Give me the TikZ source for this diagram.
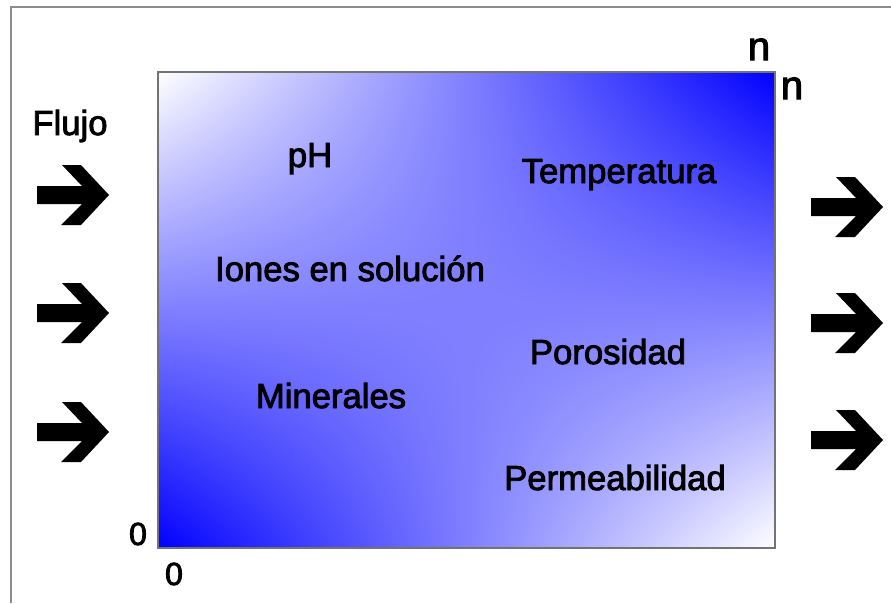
\documentclass[tikz,border=0pt]{standalone}
\usepackage{fontspec}
\setmainfont{Liberation Sans}
\newfontface\gruesa{Liberation Sans}[FakeBold=2.5]
\usetikzlibrary{positioning}
\tikzstyle{etiqueta}=[font=\gruesa\fontsize{26}{30}\selectfont,anchor=base,inner sep=0pt]

\pgfdeclarefunctionalshading{medio}{\pgfpoint{0bp}{0bp}}{\pgfpoint{100bp}{100bp}}{}{
  25 sub 50 div exch 25 sub 50 div exch
  2 copy mul 2 mul 3 1 roll add exch sub
  dup 0 lt {pop 0} if dup 1 gt {pop 1} if
  dup 1
}

\begin{document}
\begin{tikzpicture}[x=0.75pt,y=-0.75pt]
\tikzstyle{cero}=[font=\gruesa\fontsize{24}{28}\selectfont,anchor=base,inner sep=0pt]
\tikzstyle{ene}=[font=\gruesa\fontsize{30}{34}\selectfont,anchor=base,inner sep=0pt]
\tikzset{flecha/.pic={\fill (0,-9) -- (45,-9) -- (25,-30) -- (44,-30) -- (72,0)
  -- (44,30) -- (24,30) -- (45,9) -- (0,9) -- cycle;}}
\useasboundingbox (0,0) rectangle (891,603);

% marco
\draw[black!45,line width=1.1pt] (11,603) -- (11,7) -- (891,7);

% medio poroso
\coordinate (so) at (158,548);
\coordinate (ne) at (775,72);
\shade[shading=medio] (so) rectangle (ne);
\draw[black!55,line width=1.2pt] (so) rectangle (ne);

\node[etiqueta] (flujo) at (70,135) {Flujo};
\node[etiqueta] (ph) at (310,167) {pH};
\node[etiqueta] (temp) at (619,183) {Temperatura};
\node[etiqueta] (iones) at (350,281) {Iones en solución};
\node[etiqueta] (poros) at (608,364) {Porosidad};
\node[etiqueta] (miner) at (331,408) {Minerales};
\node[etiqueta] (perme) at (615,490) {Permeabilidad};

\node[ene] (nx) at (759,60) {n};
\node[ene] (ny) at (792,99) {n};
\node[cero] (cy) at (138,545) {0};
\node[cero] (cx) at (174,585) {0};

% flechas de entrada y salida
\foreach \y in {195,313,432}
  \pic at (37,\y) {flecha};
\foreach \y in {207,323,440}
  \pic at (811,\y) {flecha};
\end{tikzpicture}
\end{document}
